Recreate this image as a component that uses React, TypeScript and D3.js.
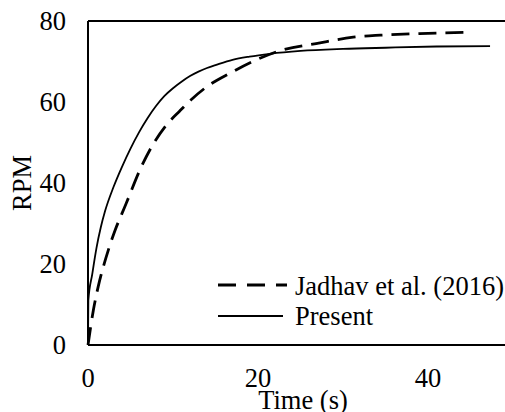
import React from 'react';
import * as d3 from 'd3';

// Jadhav et al. (2016) — dashed
const jadhavTime = [0, 0.63, 1.2, 1.8, 2.4, 3.2, 4.0, 4.5, 6.1, 7.5, 9.1, 10.8, 12.1, 14, 16.7, 19.8, 22.2, 27.3, 31.2, 34.4, 39, 44.2];
const jadhavRpm = [0, 8.6, 14.4, 19.3, 23.5, 28.4, 32.5, 35, 43.2, 49, 54, 57.8, 60.5, 63.8, 67.1, 70.4, 72.4, 74.6, 76, 76.5, 76.9, 77.2];

// Present — solid
const presentTime = [0, 0.04, 0.5, 1, 1.5, 2, 3, 4, 5, 6, 7, 8, 9, 10, 11, 12, 13, 14, 15, 17, 19, 21.4, 25, 30, 35, 41, 47.3];
const presentRpm = [0, 11, 17.5, 24, 29, 33, 39, 44, 48.5, 52.5, 56, 59, 61.5, 63.4, 65, 66.4, 67.5, 68.4, 69.1, 70.4, 71.2, 71.9, 72.6, 73.1, 73.4, 73.7, 73.8];

const xTicks = [0, 20, 40];
const yTicks = [0, 20, 40, 60, 80];
const legendLabels = ['Jadhav et al. (2016)', 'Present'];

const W = 505;
const H = 412;
const FONT = "'Liberation Serif', Tinos, 'Times New Roman', 'DejaVu Serif', serif";

const App = () => {
  const x = d3.scaleLinear().domain([0, 50]).range([88, 513]);
  const y = d3.scaleLinear().domain([0, 80]).range([345, 21]);

  const line = d3.line<[number, number]>()
    .x(d => x(d[0]))
    .y(d => y(d[1]))
    .curve(d3.curveMonotoneX);

  const jadhav = jadhavTime.map((t, i) => [t, jadhavRpm[i]] as [number, number]);
  const present = presentTime.map((t, i) => [t, presentRpm[i]] as [number, number]);

  return (
    <svg width={W} height={H}
      style={{ position: 'absolute', left: 0, top: 0, background: '#fff', fontFamily: FONT, fontSize: 26.5 }}>
      {/* frame: top, left, bottom (right side runs off the picture) */}
      <line x1={x(0)} x2={x(50)} y1={y(80)} y2={y(80)} stroke="#000" strokeWidth={2} />
      <line x1={x(0)} x2={x(0)} y1={y(0)} y2={y(80)} stroke="#000" strokeWidth={2} />
      <line x1={x(0)} x2={x(50)} y1={y(0)} y2={y(0)} stroke="#000" strokeWidth={2} />

      {yTicks.map(v => (
        <text key={v} x={66} y={y(v)} textAnchor="end" dominantBaseline="central">{v}</text>
      ))}
      {xTicks.map(v => (
        <text key={v} x={x(v)} y={387} textAnchor="middle">{v}</text>
      ))}

      <text x={303} y={409} textAnchor="middle">Time (s)</text>
      <text transform={`translate(31,${y(40)}) rotate(-90)`} textAnchor="middle">RPM</text>

      <path d={line(jadhav) ?? ''} fill="none" stroke="#000" strokeWidth={2.8} strokeDasharray="18,9" />
      <path d={line(present) ?? ''} fill="none" stroke="#000" strokeWidth={1.8} />

      {/* legend */}
      <line x1={218} x2={287} y1={285} y2={285} stroke="#000" strokeWidth={2.8} strokeDasharray="18,11" />
      <text x={295} y={295}>{legendLabels[0]}</text>
      <line x1={218} x2={283} y1={316} y2={316} stroke="#000" strokeWidth={1.8} />
      <text x={295} y={325}>{legendLabels[1]}</text>
    </svg>
  );
};

export default App;
